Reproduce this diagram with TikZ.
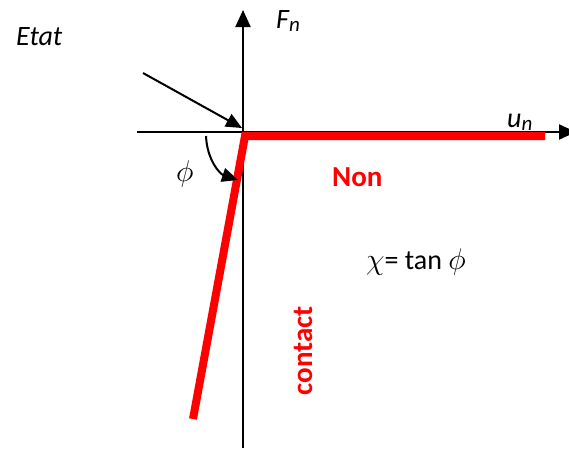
\documentclass[tikz,border=0pt]{standalone}
\usepackage{fix-cm}
\usepackage{fontspec}
\setmainfont{Carlito}
\usetikzlibrary{arrows.meta}
\newcommand{\mybigmath}[1]{{\fontsize{30}{34}\selectfont$#1$}}
\tikzset{
  axisline/.style={line width=2pt,-{Triangle[length=17pt,width=15pt]}},
  thinarrow/.style={line width=2pt,-{Triangle[length=16pt,width=14pt]}},
  redline/.style={line width=8pt,red,line join=miter},
  lbl/.style={font=\fontsize{28}{32}\selectfont,inner sep=0pt,anchor=base west},
  redlbl/.style={font=\fontsize{29}{32}\selectfont\bfseries,text=red,inner sep=0pt}
}
\begin{document}
\begin{tikzpicture}[x=1pt,y=-1pt]
\useasboundingbox (0,0) rectangle (569,448);
\coordinate (vb) at (243,448);
\coordinate (vt) at (243,10);
\coordinate (hl) at (137,132);
\coordinate (hr) at (576,132);
\draw[axisline] (vb) -- (vt);
\draw[axisline] (hl) -- (hr);
\coordinate (r1) at (193,419);
\coordinate (rc) at (245,136);
\coordinate (r2) at (545,136);
\draw[redline] (r1) -- (rc) -- (r2);
\coordinate (a1) at (143,73);
\coordinate (a2) at (242,128);
\draw[thinarrow] (a1) -- (a2);
\coordinate (b1) at (206,136);
\coordinate (b2) at (238,180);
\draw[thinarrow] (b1) .. controls (207,160) and (220,174) .. (b2);
\node[lbl] (etat) at (16,45) {\itshape Etat};
\node[lbl] (fn) at (276,28) {\itshape F\raisebox{-0.25ex}{\fontsize{21}{21}\selectfont n}};
\node[lbl] (un) at (507,127) {\itshape u\raisebox{-0.25ex}{\fontsize{21}{21}\selectfont n}};
\node[lbl] (phi) at (176,181) {\mybigmath{\phi}};
\node[redlbl,anchor=base west] (non) at (332,186) {Non};
\node[lbl] (chi) at (366,269) {\mybigmath{\chi}= tan \mybigmath{\phi}};
\node[redlbl,rotate=90] (contact) at (303,351) {contact};
\end{tikzpicture}
\end{document}
